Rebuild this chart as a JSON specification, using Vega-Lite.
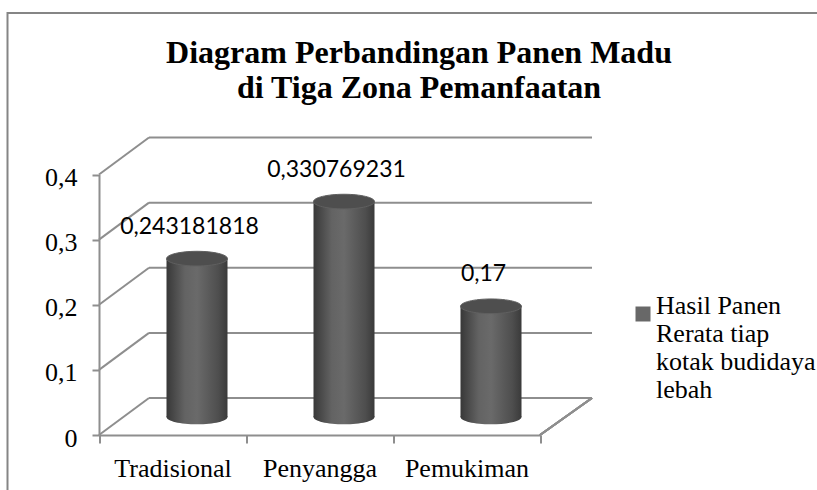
{
  "$schema": "https://vega.github.io/schema/vega-lite/v6.json",
  "autosize": "none",
  "width": 823,
  "height": 480,
  "padding": {"left": 7.5, "top": 13, "right": 0, "bottom": 0},
  "background": "white",
  "title": {
    "text": ["Diagram Perbandingan Panen Madu", "di Tiga Zona Pemanfaatan"],
    "font": "Liberation Serif",
    "fontSize": 32,
    "fontWeight": "bold",
    "color": "black",
    "anchor": "middle",
    "frame": "group",
    "baseline": "alphabetic",
    "offset": 0,
    "dy": 117,
    "lineHeight": 35
  },
  "config": {
    "view": {"stroke": "#858585", "strokeWidth": 2},
    "locale": {"number": {"decimal": ",", "thousands": ".", "grouping": [3], "currency": ["", ""]}},
    "axisY": {
      "grid": false,
      "labelFont": "Liberation Serif",
      "labelFontSize": 26,
      "labelColor": "black",
      "labelPadding": 15,
      "labelOffset": 3,
      "tickSize": 7,
      "tickColor": "#8e8e8e",
      "tickWidth": 2,
      "domainColor": "#8e8e8e",
      "domainWidth": 2
    }
  },
  "datasets": {
    "panen": [
      {"zona": "Tradisional", "value": 0.243181818},
      {"zona": "Penyangga", "value": 0.330769231},
      {"zona": "Pemukiman", "value": 0.17}
    ],
    "ticks": [{"v": 0}, {"v": 0.1}, {"v": 0.2}, {"v": 0.3}, {"v": 0.4}]
  },
  "layer": [
    {
      "data": {"name": "ticks"},
      "layer": [
        {
          "mark": {"type": "rule", "color": "#8e8e8e", "strokeWidth": 2, "xOffset": 50, "x2Offset": 52, "yOffset": -37},
          "encoding": {
            "x": {"datum": 0, "type": "quantitative", "scale": {"domain": [0, 1], "range": [91.5, 532.5]}, "axis": null},
            "x2": {"datum": 1},
            "y": {
              "field": "v", "type": "quantitative",
              "scale": {"domain": [0, 0.4], "range": [422, 161.5], "nice": false},
              "axis": {"values": [0, 0.1, 0.2, 0.3, 0.4], "format": ".1~f", "title": null, "offset": -91.5}
            }
          }
        },
        {
          "mark": {"type": "rule", "color": "#8e8e8e", "strokeWidth": 2, "x2Offset": 50, "y2Offset": -37},
          "encoding": {
            "x": {"datum": 0, "type": "quantitative"},
            "x2": {"datum": 0},
            "y": {"field": "v", "type": "quantitative",
              "axis": {"values": [0, 0.1, 0.2, 0.3, 0.4], "format": ".1~f", "title": null, "offset": -91.5}},
            "y2": {"field": "v"}
          }
        },
        {
          "mark": {"type": "rule", "color": "#8e8e8e", "strokeWidth": 2, "x2Offset": 52, "y2Offset": -37},
          "encoding": {
            "x": {"datum": 1, "type": "quantitative"},
            "x2": {"datum": 1},
            "y": {"datum": 0, "type": "quantitative",
              "axis": {"values": [0, 0.1, 0.2, 0.3, 0.4], "format": ".1~f", "title": null, "offset": -91.5}},
            "y2": {"datum": 0}
          }
        }
      ]
    },
    {
      "data": {"name": "panen"},
      "encoding": {
        "x": {
          "field": "zona", "type": "nominal", "sort": null,
          "scale": {"range": [91.5, 532.5], "paddingInner": 0, "paddingOuter": 0},
          "axis": {
            "orient": "bottom",
            "offset": -58,
            "tickBand": "extent",
            "labelAngle": 0,
            "labelFont": "Liberation Serif",
            "labelFontSize": 26,
            "labelColor": "black",
            "labelPadding": 12,
            "labelBaseline": "top",
            "tickSize": 8,
            "tickColor": "#8e8e8e",
            "tickWidth": 2,
            "domainColor": "#8e8e8e",
            "domainWidth": 2,
            "title": null,
            "grid": false
          }
        }
      },
      "layer": [
        {
          "mark": {
            "type": "point",
            "shape": "M-1,0A1,0.24,0,1,1,1,0A1,0.24,0,1,1,-1,0Z",
            "size": 3721,
            "filled": true,
            "opacity": 1,
            "strokeWidth": 0,
            "xOffset": 24.5,
            "yOffset": -18,
            "fill": {"gradient": "linear", "x1": 0, "y1": 0, "x2": 1, "y2": 0,
              "stops": [{"offset": 0, "color": "#383838"}, {"offset": 0.3, "color": "#636363"}, {"offset": 0.5, "color": "#6a6a6a"}, {"offset": 0.85, "color": "#4e4e4e"}, {"offset": 1, "color": "#3a3a3a"}]}
          },
          "encoding": {"y": {"datum": 0, "type": "quantitative",
            "axis": {"values": [0, 0.1, 0.2, 0.3, 0.4], "format": ".1~f", "title": null, "offset": -91.5}}}
        },
        {
          "mark": {
            "type": "bar",
            "width": 61,
            "xOffset": 24.5,
            "yOffset": -18,
            "y2Offset": -18,
            "fill": {"gradient": "linear", "x1": 0, "y1": 0, "x2": 1, "y2": 0,
              "stops": [{"offset": 0, "color": "#383838"}, {"offset": 0.3, "color": "#636363"}, {"offset": 0.5, "color": "#6a6a6a"}, {"offset": 0.85, "color": "#4e4e4e"}, {"offset": 1, "color": "#3a3a3a"}]}
          },
          "encoding": {
            "y": {"field": "value", "type": "quantitative",
              "axis": {"values": [0, 0.1, 0.2, 0.3, 0.4], "format": ".1~f", "title": null, "offset": -91.5}},
            "y2": {"datum": 0}
          }
        },
        {
          "mark": {
            "type": "point",
            "shape": "M-1,0A1,0.24,0,1,1,1,0A1,0.24,0,1,1,-1,0Z",
            "size": 3721,
            "filled": true,
            "opacity": 1,
            "stroke": "#606060",
            "strokeWidth": 1,
            "xOffset": 24.5,
            "yOffset": -18
          },
          "encoding": {
            "y": {"field": "value", "type": "quantitative",
              "axis": {"values": [0, 0.1, 0.2, 0.3, 0.4], "format": ".1~f", "title": null, "offset": -91.5}},
            "color": {
              "datum": "Hasil Panen Rerata tiap kotak budidaya lebah",
              "scale": {"range": ["#4e4e4e"]},
              "legend": {
                "orient": "none",
                "legendX": 622.5,
                "legendY": 288,
                "title": null,
                "padding": 0,
                "symbolType": "square",
                "symbolSize": 225,
                "symbolOpacity": 0.85,
                "symbolStrokeWidth": 0,
                "labelFont": "Liberation Serif",
                "labelFontSize": 26,
                "labelColor": "black",
                "labelLimit": 400,
                "labelOffset": 0,
                "labelExpr": "['Hasil Panen', 'Rerata tiap', 'kotak budidaya', 'lebah']",
                "labelBaseline": "alphabetic",
                "encode": {"labels": {"lineHeight": {"value": 30}}}
              }
            }
          }
        },
        {
          "mark": {
            "type": "text",
            "font": "Lato",
            "fontSize": 23,
            "color": "black",
            "baseline": "alphabetic",
            "align": "center",
            "xOffset": 17,
            "yOffset": -18,
            "dy": -25
          },
          "encoding": {
            "y": {"field": "value", "type": "quantitative",
              "axis": {"values": [0, 0.1, 0.2, 0.3, 0.4], "format": ".1~f", "title": null, "offset": -91.5}},
            "text": {"field": "value", "type": "quantitative", "format": ".9~f"}
          }
        }
      ]
    }
  ],
  "resolve": {"scale": {"x": "independent"}, "axis": {"x": "independent"}}
}
